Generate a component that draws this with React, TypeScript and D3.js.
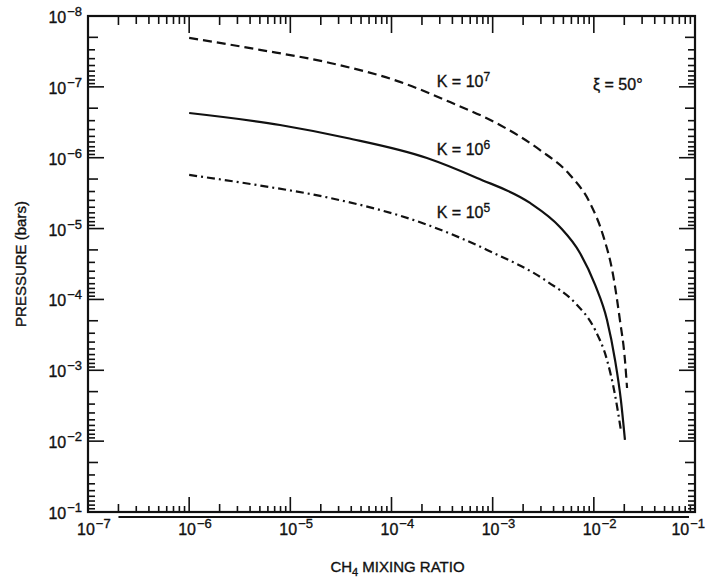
import React, { useEffect, useRef } from "react";
import * as d3 from "d3";

// CH4 mixing ratio (x) vs pressure in bars (y) for three eddy diffusion coefficients
const k7Mixing = [1e-6, 5.0e-6, 2.47e-5, 1.21e-4, 3.79e-4, 1.18e-3, 2.94e-3, 5.81e-3, 9.16e-3, 1.23e-2, 1.55e-2, 1.81e-2, 2.03e-2, 2.13e-2];
const k7Pressure = [2.04e-8, 3.0e-8, 4.6e-8, 8.5e-8, 1.64e-7, 3.45e-7, 7.8e-7, 1.75e-6, 4.35e-6, 1.23e-5, 4.52e-5, 1.95e-4, 7.16e-4, 1.78e-3];

const k6Mixing = [1e-6, 7.9e-6, 3.63e-5, 2.24e-4, 7.0e-4, 2.34e-3, 4.62e-3, 7.29e-3, 1.03e-2, 1.35e-2, 1.62e-2, 1.85e-2, 2.03e-2];
const k6Pressure = [2.34e-7, 3.45e-7, 5.27e-7, 1.01e-6, 1.93e-6, 4.35e-6, 9.5e-6, 2.21e-5, 6.25e-5, 1.95e-4, 7.16e-4, 2.62e-3, 9.6e-3];

const k5Mixing = [1e-6, 4.68e-6, 2.47e-5, 2.14e-4, 8.8e-4, 3.52e-3, 6.52e-3, 1.03e-2, 1.35e-2, 1.62e-2, 1.85e-2];
const k5Pressure = [1.75e-6, 2.43e-6, 3.7e-6, 8.6e-6, 2.0e-5, 5.68e-5, 1.12e-4, 2.7e-4, 7.16e-4, 2.23e-3, 6.97e-3];

const xTickExponents = [-7, -6, -5, -4, -3, -2, -1];
const yTickExponents = [-8, -7, -6, -5, -4, -3, -2, -1];

const curveLabels = ["K = 10", "K = 10", "K = 10"];
const curveLabelExp = ["7", "6", "5"];
// where each K label sits, in data units (mixing ratio, pressure)
const curveLabelMixing = [2.8e-4, 2.8e-4, 2.8e-4];
const curveLabelPressure = [1.0e-7, 9.1e-7, 7.1e-6];

const App = () => {
  const ref = useRef<SVGSVGElement>(null);

  useEffect(() => {
    const width = 706,
      height = 583;
    const margin = { top: 16, right: 11, bottom: 71, left: 88 };
    const innerW = width - margin.left - margin.right;
    const innerH = height - margin.top - margin.bottom;
    const font = "'Liberation Sans', Arial, Helvetica, sans-serif";
    const ink = "#111";

    const svg = d3.select(ref.current);
    svg.selectAll("*").remove();

    const g = svg.append("g").attr("transform", `translate(${margin.left},${margin.top})`);

    // log scales, pressure increases downward
    const x = d3.scaleLog().domain([1e-7, 1e-1]).range([0, innerW]);
    const y = d3.scaleLog().domain([1e-8, 1e-1]).range([0, innerH]);

    const isMajor = (v: number) => Math.abs(Math.log10(v) - Math.round(Math.log10(v))) < 1e-6;
    const isTwo = (v: number) => Math.abs(v / Math.pow(10, Math.floor(Math.log10(v) + 1e-9)) - 2) < 1e-6;

    // slightly heavier text, like the printed figure
    const styleText = (t: any, size: number) =>
      t.attr("font-family", font)
        .attr("font-size", size)
        .attr("fill", ink)
        .attr("stroke", ink)
        .attr("stroke-width", 0.35);

    // power-of-ten label: "10" with a raised exponent
    const pow10 = (t: any, base: string, exp: string) => {
      t.append("tspan").text(base);
      t.append("tspan").attr("dy", -7).attr("dx", 1).attr("font-size", 13).text(exp);
    };

    // frame
    g.append("rect")
      .attr("width", innerW)
      .attr("height", innerH)
      .attr("fill", "none")
      .attr("stroke", ink)
      .attr("stroke-width", 2.2);

    // second line under the bottom axis (as in the printed figure)
    g.append("line")
      .attr("x1", x(2e-7))
      .attr("x2", x(1e-1) - 6)
      .attr("y1", innerH + 5)
      .attr("y2", innerH + 5)
      .attr("stroke", ink)
      .attr("stroke-width", 2);

    // x ticks (bottom and top, pointing inward)
    const xt = x.ticks().filter((v) => v >= 1e-7 && v <= 1e-1);
    xt.forEach((v) => {
      const major = isMajor(v);
      const bl = major ? 15 : isTwo(v) ? 8 : 6;
      const tl = major ? 17 : isTwo(v) ? 9 : 8;
      g.append("line")
        .attr("x1", x(v)).attr("x2", x(v))
        .attr("y1", innerH).attr("y2", innerH - bl)
        .attr("stroke", ink).attr("stroke-width", 1.6);
      g.append("line")
        .attr("x1", x(v)).attr("x2", x(v))
        .attr("y1", 0).attr("y2", tl)
        .attr("stroke", ink).attr("stroke-width", 1.6);
    });

    // y ticks (left and right, pointing inward)
    const yt = y.ticks().filter((v) => v >= 1e-8 && v <= 1e-1);
    yt.forEach((v) => {
      const major = isMajor(v);
      const len = major ? 16 : isTwo(v) ? 10 : 7;
      g.append("line")
        .attr("x1", 0).attr("x2", len)
        .attr("y1", y(v)).attr("y2", y(v))
        .attr("stroke", ink).attr("stroke-width", 1.6);
      g.append("line")
        .attr("x1", innerW).attr("x2", innerW - len)
        .attr("y1", y(v)).attr("y2", y(v))
        .attr("stroke", ink).attr("stroke-width", 1.6);
    });

    // x tick labels (last one kept inside the page)
    xTickExponents.forEach((e) => {
      const t = styleText(g.append("text"), 16)
        .attr("x", x(Math.pow(10, e)) - 11)
        .attr("y", innerH + 23);
      pow10(t, "10", `\u2212${-e}`);
      const w = (t.node() as SVGTextElement).getComputedTextLength();
      const maxX = innerW + margin.right - 2 - w;
      if (x(Math.pow(10, e)) - 11 > maxX) t.attr("x", maxX);
    });

    // y tick labels
    yTickExponents.forEach((e) => {
      const t = styleText(g.append("text"), 16)
        .attr("x", -6)
        .attr("y", y(Math.pow(10, e)) + 7)
        .attr("text-anchor", "end");
      pow10(t, "10", `\u2212${-e}`);
    });

    // curves
    const line = d3
      .line<[number, number]>()
      .x((d) => x(d[0]))
      .y((d) => y(d[1]))
      .curve(d3.curveMonotoneX);

    const series = [
      { xs: k7Mixing, ps: k7Pressure, dash: "9,5" },
      { xs: k6Mixing, ps: k6Pressure, dash: null },
      { xs: k5Mixing, ps: k5Pressure, dash: "8,4,2,4" },
    ];

    series.forEach((s) => {
      const pts = s.xs.map((v, i) => [v, s.ps[i]] as [number, number]);
      g.append("path")
        .datum(pts)
        .attr("d", line)
        .attr("fill", "none")
        .attr("stroke", ink)
        .attr("stroke-width", 2.2)
        .attr("stroke-dasharray", s.dash);
    });

    // curve labels
    curveLabels.forEach((lab, i) => {
      const t = styleText(g.append("text"), 16)
        .attr("x", x(curveLabelMixing[i]))
        .attr("y", y(curveLabelPressure[i]));
      t.append("tspan").text(lab);
      t.append("tspan").attr("dy", -6).attr("font-size", 12).text(curveLabelExp[i]);
    });

    // zenith angle
    styleText(g.append("text"), 16)
      .attr("x", x(9.8e-3))
      .attr("y", y(1.1e-7))
      .text("\u03be = 50\u00b0");

    // axis titles
    const xl = styleText(svg.append("text"), 15)
      .attr("x", margin.left + innerW / 2 + 6)
      .attr("y", 572)
      .attr("text-anchor", "middle");
    xl.append("tspan").text("CH");
    xl.append("tspan").attr("dy", 4).attr("font-size", 11).text("4");
    xl.append("tspan").attr("dy", -4).text(" MIXING RATIO");

    styleText(svg.append("text"), 15)
      .attr("transform", `translate(26,${margin.top + innerH / 2}) rotate(-90)`)
      .attr("text-anchor", "middle")
      .text("PRESSURE (bars)");
  }, []);

  return (
    <svg
      ref={ref}
      width={706}
      height={583}
      style={{ position: "absolute", left: 0, top: 0, background: "#fff" }}
    />
  );
};

export default App;
